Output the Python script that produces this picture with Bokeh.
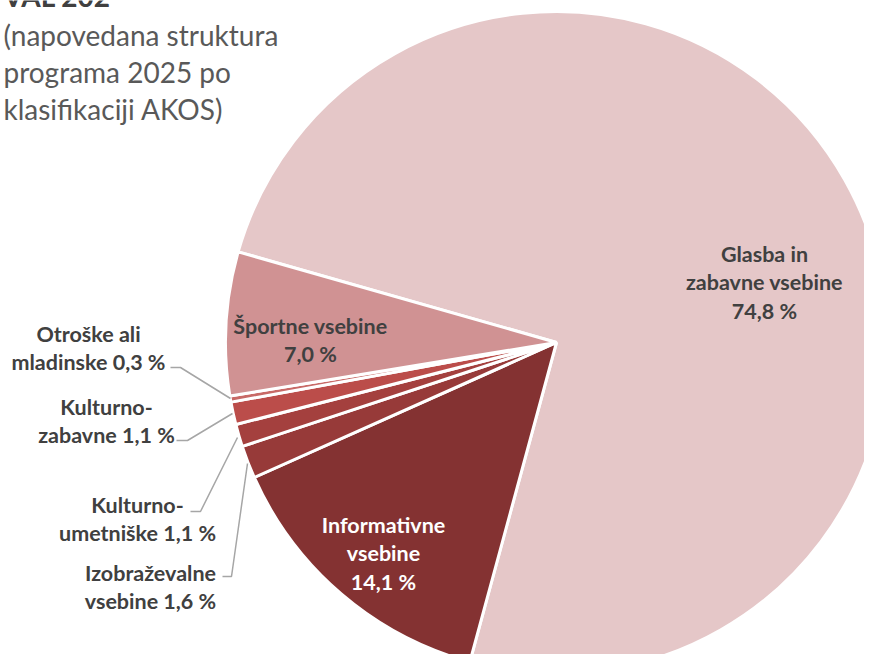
from bokeh.plotting import figure
from bokeh.models import Range1d
from bokeh.embed import file_html
from bokeh.resources import INLINE
from bokeh.core.properties import value
import math

# ---- data ----
categories = ["Glasba in zabavne vsebine", "Informativne vsebine", "Izobraževalne vsebine",
              "Kulturno-umetniške", "Kulturno-zabavne", "Otroške ali mladinske", "Športne vsebine"]
shares = [74.8, 14.1, 1.6, 1.1, 1.1, 0.3, 7.0]
colors = ["#E5C7C8", "#843232", "#973A39", "#A4403E", "#BB4D4A", "#C86A67", "#D09293"]
label_lines = [
    ["Glasba in", "zabavne vsebine", "74,8 %"],
    ["Informativne", "vsebine", "14,1 %"],
    ["Izobraževalne", "vsebine 1,6 %"],
    ["Kulturno-", "umetniške 1,1 %"],
    ["Kulturno-", "zabavne 1,1 %"],
    ["Otroške ali", "mladinske 0,3 %"],
    ["Športne vsebine", "7,0 %"],
]
title_main = "VAL 202"
title_sub = ["(napovedana struktura", "programa 2025 po", "klasifikaciji AKOS)"]

# ---- layout (picture pixels from top-left) ----
W, H = 864, 654
def sx(X):
    return X
def sy(Y):
    return H - Y

cx, cy, R = 556, 342, 331
start_deg = 164.1

p = figure(width=W, height=H, output_backend="svg", toolbar_location=None,
           x_range=Range1d(0, W), y_range=Range1d(0, H), min_border=0)
p.axis.visible = False
p.grid.visible = False
p.outline_line_color = None
p.background_fill_color = "white"

# wedges
cum = 0.0
starts, ends = [], []
for v in shares:
    a0 = start_deg - cum * 3.6
    a1 = a0 - v * 3.6
    starts.append(math.radians(a0))
    ends.append(math.radians(a1))
    cum += v
p.wedge(x=[sx(cx)] * len(shares), y=[sy(cy)] * len(shares), radius=R,
        start_angle=starts, end_angle=ends, direction="clock",
        fill_color=colors, line_color="white", line_width=3)

# label anchor positions: centre x, list of line y
label_pos = [
    (764, [253, 281, 310]),
    (383, [524, 552, 581]),
    (150, [572, 600]),
    (137, [504, 532]),
    (106, [406, 434]),
    (88, [333, 361]),
    (310, [325, 353]),
]
label_colors = ["#404040", "#FFFFFF", "#404040", "#404040", "#404040", "#404040", "#404040"]

for lines, (lx, lys), col in zip(label_lines, label_pos, label_colors):
    p.text(x=[sx(lx)] * len(lines), y=[sy(yy) for yy in lys], text=lines,
           text_align="center", text_baseline="middle",
           text_font=value("Lato"), text_font_style="bold",
           text_font_size="21.5px", text_color=col)

# leader lines
leaders = [
    [(222, 576), (231, 576), (247, 463)],
    [(190, 511), (200, 511), (237, 437)],
    [(176, 440), (187, 440), (232, 413)],
    [(170, 367), (180, 367), (230, 398)],
]
for pts in leaders:
    p.line(x=[sx(a) for a, b in pts], y=[sy(b) for a, b in pts],
           line_color="#A6A6A6", line_width=1.5)

# title (cut at the top edge, as in the reference)
p.text(x=[sx(3)], y=[sy(12)], text=[title_main], text_align="left",
       text_baseline="bottom", text_font=value("Lato"), text_font_style="bold",
       text_font_size="28px", text_color="#404040")
p.text(x=[sx(3)] * 3, y=[sy(34), sy(71), sy(108)], text=title_sub,
       text_align="left", text_baseline="middle", text_font=value("Lato"),
       text_font_size="28px", text_color="#595959")

open("out.html", "w").write(file_html(p, INLINE))
